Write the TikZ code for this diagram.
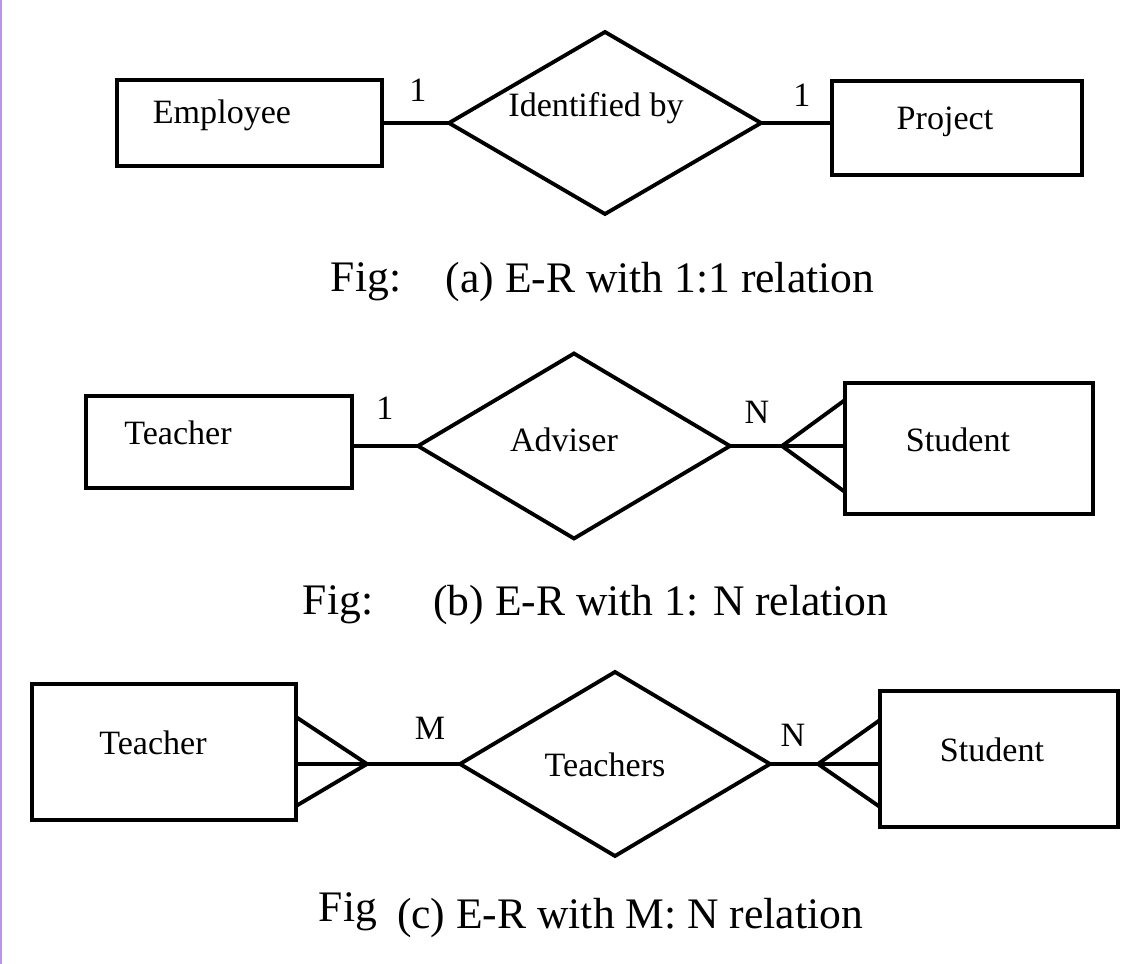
\documentclass[tikz,border=0pt]{standalone}
\usepackage{fontspec}
\setmainfont{Liberation Serif}
\usetikzlibrary{shapes.geometric,calc}
\definecolor{edge}{RGB}{185,150,225}
\tikzset{
  every path/.style={line width=1.1pt},
  entity/.style={draw, inner sep=0pt, outer sep=0pt},
  rel/.style={diamond, draw, inner sep=0pt, outer sep=0pt},
  txt/.style={font=\fontsize{9.7}{11}\selectfont, inner sep=0pt},
  figcap/.style={font=\fontsize{12.4}{14}\selectfont, inner sep=0pt}
}
\begin{document}
\begin{tikzpicture}
            \useasboundingbox (0,0) rectangle (11.42,9.64);
            \fill [edge] (0,0) rectangle (0.02,9.64);
            %(a) 1:1
            \node [entity, minimum width = 2.65cm, minimum height = 0.86cm]
            (emp)at(2.495,8.41){};
            \node [txt] (emp-t)at(2.22,8.49){Employee};
            \node [rel, minimum width = 3.12cm, minimum height = 1.82cm]
            (idb)at(6.05,8.41){};
            \node [txt] (idb-t)at(5.96,8.56){Identified by};
            \node [entity, minimum width = 2.5cm, minimum height = 0.94cm]
            (pro)at(9.57,8.36){};
            \node [txt] (pro-t)at(9.45,8.42){Project};
            \node [txt] (one1)at(4.18,8.74){1};
            \node [txt] (one2)at(8.02,8.69){1};
            \draw (idb.west -| emp.east)--(idb.west);
            \draw (idb.east)--(idb.east -| pro.west);
            \node [figcap] (capa-fig)at(3.66,6.82){Fig:};
            \node [figcap] (capa)at(6.60,6.82){(a) E-R with 1:1 relation};
            %(b) 1:N
            \node [entity, minimum width = 2.66cm, minimum height = 0.92cm]
            (teb)at(2.19,5.22){};
            \node [txt] (teb-t)at(1.78,5.31){Teacher};
            \node [rel, minimum width = 3.12cm, minimum height = 1.85cm]
            (adv)at(5.74,5.18){};
            \node [txt] (adv-t)at(5.64,5.24){Adviser};
            \node [entity, minimum width = 2.48cm, minimum height = 1.31cm]
            (stb)at(9.69,5.155){};
            \node [txt] (stb-t)at(9.58,5.24){Student};
            \node [txt] (oneb)at(3.85,5.56){1};
            \node [txt] (nb)at(7.57,5.52){N};
            \coordinate (fb) at (7.82,5.18);
            \draw (adv.west -| teb.east)--(adv.west);
            \draw (adv.east)--(fb)--(fb -| stb.west);
            \draw ($(fb -| stb.west)+(0,0.46)$)--(fb)--($(fb -| stb.west)+(0,-0.46)$);
            \node [figcap] (capb-fig)at(3.38,3.59){Fig:};
            \node [figcap] (capb)at(6.61,3.59){(b) E-R with 1: N relation};
            %(c) M:N
            \node [entity, minimum width = 2.64cm, minimum height = 1.36cm]
            (tec)at(1.64,2.12){};
            \node [txt] (tec-t)at(1.53,2.21){Teacher};
            \node [rel, minimum width = 3.1cm, minimum height = 1.84cm]
            (tch)at(6.15,2.0){};
            \node [txt] (tch-t)at(6.05,1.99){Teachers};
            \node [entity, minimum width = 2.38cm, minimum height = 1.36cm]
            (stc)at(9.99,2.05){};
            \node [txt] (stc-t)at(9.92,2.14){Student};
            \node [txt] (mc)at(4.30,2.36){M};
            \node [txt] (nc)at(7.93,2.29){N};
            \coordinate (fc1) at (3.67,2.0);
            \coordinate (fc2) at (8.18,2.0);
            \draw (fc1)--(tch.west);
            \draw ($(fc1 -| tec.east)+(0,0.47)$)--(fc1)--($(fc1 -| tec.east)+(0,-0.42)$);
            \draw (fc1)--(fc1 -| tec.east);
            \draw (tch.east)--(fc2)--(fc2 -| stc.west);
            \draw ($(fc2 -| stc.west)+(0,0.44)$)--(fc2)--($(fc2 -| stc.west)+(0,-0.43)$);
            \node [figcap] (capc-fig)at(3.48,0.52){Fig};
            \node [figcap] (capc)at(6.30,0.46){(c) E-R with M: N relation};
\end{tikzpicture}
\end{document}
